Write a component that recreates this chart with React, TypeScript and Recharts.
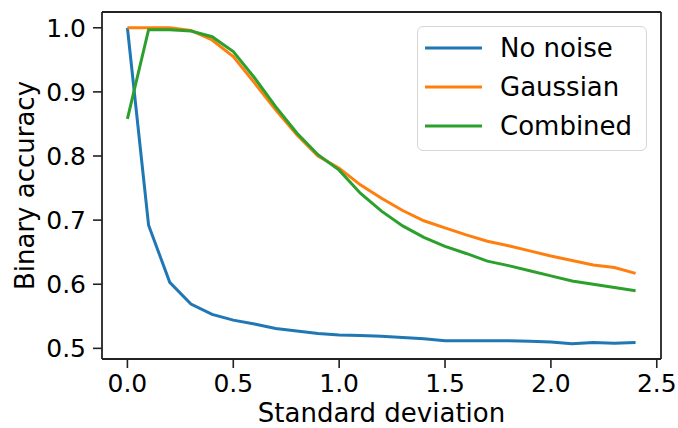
import React from 'react';
import {
  LineChart,
  Line,
  XAxis,
  YAxis,
  Legend,
  ReferenceLine,
} from 'recharts';

const xValues = [0, 0.1, 0.2, 0.3, 0.4, 0.5, 0.6, 0.7, 0.8, 0.9, 1.0, 1.1, 1.2, 1.3, 1.4, 1.5, 1.6, 1.7, 1.8, 1.9, 2.0, 2.1, 2.2, 2.3, 2.4];
const noNoise = [1.0, 0.692, 0.603, 0.569, 0.553, 0.544, 0.538, 0.531, 0.527, 0.523, 0.521, 0.520, 0.519, 0.517, 0.515, 0.512, 0.512, 0.512, 0.512, 0.511, 0.510, 0.507, 0.509, 0.508, 0.509];
const gaussian = [1.0, 1.0, 1.0, 0.996, 0.981, 0.955, 0.914, 0.872, 0.833, 0.800, 0.781, 0.755, 0.734, 0.715, 0.699, 0.688, 0.677, 0.667, 0.660, 0.652, 0.644, 0.637, 0.630, 0.626, 0.617];
const combined = [0.858, 0.997, 0.997, 0.995, 0.986, 0.963, 0.922, 0.877, 0.836, 0.802, 0.778, 0.742, 0.714, 0.691, 0.673, 0.659, 0.648, 0.636, 0.629, 0.621, 0.613, 0.605, 0.600, 0.595, 0.590];

const xTicks = [0, 0.5, 1.0, 1.5, 2.0, 2.5];
const yTicks = [0.5, 0.6, 0.7, 0.8, 0.9, 1.0];
const xDomain = [-0.12, 2.52];
const yDomain = [0.4834, 1.0246];

const series = [
  { key: 'noNoise', name: 'No noise', color: '#1f77b4' },
  { key: 'gaussian', name: 'Gaussian', color: '#ff7f0e' },
  { key: 'combined', name: 'Combined', color: '#2ca02c' },
];

const chartData = xValues.map((x, i) => ({
  x,
  noNoise: noNoise[i],
  gaussian: gaussian[i],
  combined: combined[i],
}));

const FONT = '"DejaVu Sans", sans-serif';
const FRAME = '#222';

const LegendBox = () => (
  <div
    style={{
      border: '1.5px solid #d6d6d6',
      borderRadius: 6,
      background: 'rgba(255,255,255,0.85)',
      padding: '2px 0 5px 7px',
      fontFamily: FONT,
      fontSize: 26,
      color: '#000',
      width: 230,
      boxSizing: 'border-box',
    }}
  >
    {series.map(s => (
      <div key={s.key} style={{ display: 'flex', alignItems: 'center', height: 38.7 }}>
        <svg width={57} height={4} style={{ display: 'block' }}>
          <line x1={0} y1={2} x2={57} y2={2} stroke={s.color} strokeWidth={3} />
        </svg>
        <span style={{ marginLeft: 18, lineHeight: '38px' }}>{s.name}</span>
      </div>
    ))}
  </div>
);

const YLabel = ({ viewBox }: any) => {
  const cx = viewBox.x + 33.5;
  const cy = viewBox.y + viewBox.height / 2;
  return (
    <text x={cx} y={cy} transform={`rotate(-90, ${cx}, ${cy})`} textAnchor="middle"
      fontFamily={FONT} fontSize={26} fill="#000">
      Binary accuracy
    </text>
  );
};

const XLabel = ({ viewBox }: any) => (
  <text x={viewBox.x + viewBox.width / 2} y={viewBox.y + 63} textAnchor="middle"
    fontFamily={FONT} fontSize={26} fill="#000">
    Standard deviation
  </text>
);

export default function App() {
  return (
    <div style={{ position: 'relative', width: 678, height: 428 }}>
      {/* drop the default body margin so the chart can use the whole window */}
      <style>{'body { margin: 0; }'}</style>
      <LineChart
        width={678}
        height={428}
        data={chartData}
        margin={{ top: 12, right: 17, left: 0, bottom: 0 }}
      >
        <XAxis
          dataKey="x"
          type="number"
          domain={xDomain}
          ticks={xTicks}
          allowDataOverflow
          tickFormatter={(v: number) => v.toFixed(1)}
          height={69}
          tickSize={9}
          tickMargin={6}
          tick={{ fontSize: 25, fontFamily: FONT, fill: '#000' }}
          axisLine={{ stroke: FRAME, strokeWidth: 1.8 }}
          tickLine={{ stroke: FRAME, strokeWidth: 1.6 }}
          label={<XLabel />}
        />
        <YAxis
          type="number"
          domain={yDomain}
          ticks={yTicks}
          allowDataOverflow
          tickFormatter={(v: number) => v.toFixed(1)}
          width={102}
          tickSize={9}
          tickMargin={7}
          tick={{ fontSize: 25, fontFamily: FONT, fill: '#000' }}
          axisLine={{ stroke: FRAME, strokeWidth: 1.8 }}
          tickLine={{ stroke: FRAME, strokeWidth: 1.6 }}
          label={<YLabel />}
        />
        <ReferenceLine y={yDomain[1]} stroke={FRAME} strokeWidth={1.8} ifOverflow="extendDomain" />
        <ReferenceLine x={xDomain[1]} stroke={FRAME} strokeWidth={1.8} ifOverflow="extendDomain" />
        <Legend
          layout="vertical"
          align="center"
          verticalAlign="middle"
          content={<LegendBox />}
          wrapperStyle={{ position: 'absolute', left: 417, top: 26, width: 230, height: 'auto' }}
        />
        {series.map(s => (
          <Line
            key={s.key}
            type="linear"
            dataKey={s.key}
            name={s.name}
            stroke={s.color}
            strokeWidth={3}
            dot={false}
            activeDot={false}
            isAnimationActive={false}
          />
        ))}
      </LineChart>
    </div>
  );
}
